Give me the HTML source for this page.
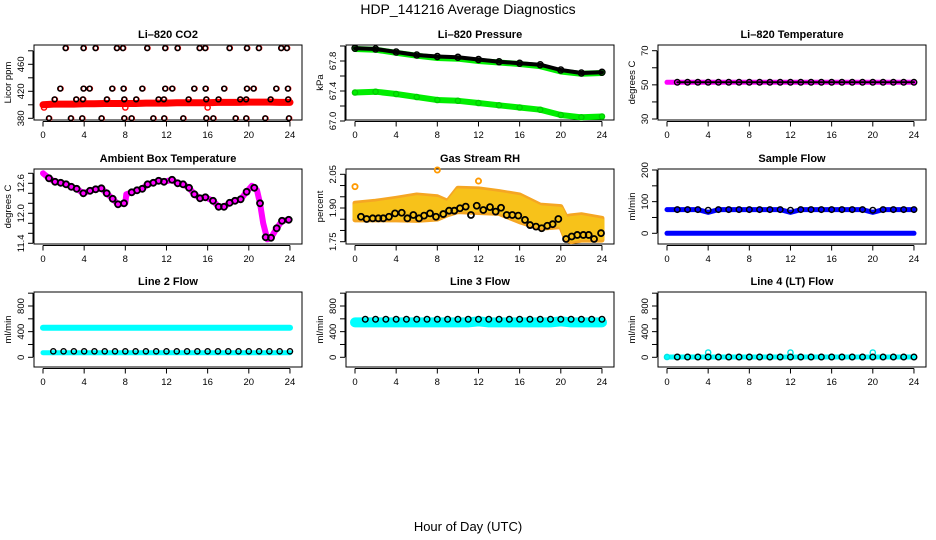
<!DOCTYPE html>
<html><head><meta charset="utf-8"><style>
html,body{margin:0;padding:0;background:#fff;}
svg{display:block;font-family:"Liberation Sans",Arial,sans-serif;}
</style></head><body>
<svg id="chart" width="936" height="540" viewBox="0 0 936 540" xmlns="http://www.w3.org/2000/svg">
<rect width="936" height="540" fill="#fff"/>
<text x="468" y="14" text-anchor="middle" font-size="14">HDP_141216  Average Diagnostics</text>
<text x="468" y="531" text-anchor="middle" font-size="13">Hour of Day (UTC)</text>
</svg>
<script>
// ---------- data ----------
const hrs = [0,1,2,3,4,5,6,7,8,9,10,11,12,13,14,15,16,17,18,19,20,21,22,23,24];
const hrs2 = [0,2,4,6,8,10,12,14,16,18,20,22,24];
const xTicks = [0,4,8,12,16,20,24];

// CO2
const co2Red = [400,401,401,401,401.5,401.5,402,402,402,402,402.5,402.5,402.5,403,403,403,403,403.5,403.5,403.5,404,404,404,403.5,403.5];
const co2OutHrs = [0.1,8,16];
const co2OutVals = [396,396,396];
const co2BlkHrs = [2.24,3.98,5.15,7.22,7.81,10.17,11.92,13.12,15.26,15.81,18.17,19.86,21.02,23.19,23.74,
 1.72,3.98,4.57,6.77,7.87,9.69,11.92,12.6,14.74,15.84,17.65,19.86,20.51,22.71,23.84,
 1.17,3.27,3.92,6.25,7.94,9.1,11.27,11.79,14.19,15.91,17.1,19.21,19.79,22.16,23.87,
 0.62,2.75,3.85,5.73,7.94,8.65,10.76,11.82,13.67,15.91,16.59,18.76,19.79,21.64,23.94];
const co2BlkVals = [484,484,484,484,484,484,484,484,484,484,484,484,484,484,484,
 424,424,424,424,424,424,424,424,424,424,424,424,424,424,424,
 408,408,408,408,408,408,408,408,408,408,408,408,408,408,408,
 380,380,380,380,380,380,380,380,380,380,380,380,380,380,380];

// Pressure
const presBlk = [67.97,67.96,67.92,67.88,67.86,67.85,67.82,67.79,67.77,67.75,67.68,67.64,67.65];
const presGrnHi = [67.96,67.95,67.91,67.87,67.84,67.83,67.80,67.78,67.76,67.73,67.66,67.63,67.64];
const presGrnLo = [67.38,67.39,67.36,67.32,67.28,67.27,67.24,67.21,67.18,67.15,67.08,67.05,67.06];

// Li-820 temp
const tempVals = [51.5,51.5,51.5,51.5,51.5,51.5,51.5,51.5,51.5,51.5,51.5,51.5,51.5,51.5,51.5,51.5,51.5,51.5,51.5,51.5,51.5,51.5,51.5,51.5,51.5];

// Ambient box temperature
const ambHrs = [0.58,1.17,1.72,2.24,2.75,3.27,3.92,4.57,5.12,5.67,6.19,6.77,7.29,7.87,8.62,9.14,9.65,10.17,10.72,11.24,11.76,12.54,13.09,13.61,14.19,14.71,15.26,15.78,16.52,17.07,17.59,18.14,18.66,19.21,19.79,20.53,21.09,21.64,22.16,22.71,23.23,23.88];
const ambVals = [12.70,12.63,12.61,12.58,12.53,12.49,12.40,12.45,12.48,12.50,12.40,12.29,12.18,12.20,12.42,12.46,12.49,12.58,12.61,12.65,12.63,12.67,12.60,12.58,12.51,12.38,12.30,12.32,12.25,12.13,12.13,12.21,12.25,12.28,12.43,12.51,12.20,11.52,11.51,11.70,11.85,11.87];
const ambMagHrs = [0,0.3,0.58,1.17,1.72,2.24,2.75,3.27,3.92,4.57,5.12,5.67,6.19,6.77,7.29,7.87,8.0,8.1,8.62,9.14,9.65,10.17,10.72,11.24,11.76,12.54,13.09,13.61,14.19,14.71,15.26,15.78,16.52,17.07,17.59,18.14,18.66,19.21,19.79,20.3,20.8,21.09,21.4,21.8,22.16,22.71,23.23,23.88];
const ambMagVals = [12.80,12.75,12.70,12.63,12.61,12.58,12.53,12.49,12.40,12.45,12.48,12.50,12.40,12.29,12.18,12.20,12.20,12.38,12.42,12.46,12.49,12.58,12.61,12.65,12.63,12.67,12.60,12.58,12.51,12.38,12.30,12.32,12.25,12.13,12.13,12.21,12.25,12.28,12.43,12.55,12.46,12.20,11.80,11.48,11.51,11.70,11.85,11.87];

// Gas stream RH
const rhHrs = [0.58,1.13,1.72,2.27,2.75,3.30,3.89,4.54,5.09,5.67,6.22,6.71,7.29,7.87,8.58,9.14,9.65,10.20,10.76,11.27,11.83,12.47,13.12,13.67,14.19,14.74,15.29,15.87,16.52,17.01,17.59,18.14,18.69,19.21,19.76,20.51,21.06,21.60,22.19,22.71,23.23,23.91];
const rhVals = [1.861,1.851,1.854,1.854,1.854,1.861,1.876,1.879,1.854,1.869,1.854,1.866,1.876,1.861,1.873,1.888,1.888,1.899,1.906,1.869,1.910,1.891,1.904,1.884,1.901,1.869,1.869,1.866,1.847,1.824,1.817,1.810,1.821,1.828,1.851,1.762,1.773,1.780,1.780,1.780,1.762,1.788];
const rhBandHrs = [0,2,4,6,8,9,10,12,14,16,18,20,20.5,21,22,24];
const rhBandHi = [1.921,1.930,1.943,1.958,1.950,1.930,1.988,1.985,1.973,1.958,1.913,1.906,1.861,1.865,1.870,1.854];
const rhBandLo = [1.847,1.847,1.847,1.845,1.851,1.870,1.884,1.880,1.876,1.839,1.810,1.817,1.760,1.750,1.757,1.757];
const rhOutHrs = [0.0,8.0,12.0];
const rhOutVals = [1.995,2.069,2.02];

// Sample flow
const sfBlk = [75,75,75,75,73,75,75,75,75,75,75,75,73,75,75,75,75,75,75,75,73,75,75,75,75];
const sfBlue = [75,75,75,75,66,75,75,75,75,75,75,75,66,75,75,75,75,75,75,75,66,75,75,75,75];
const sfBlueZero = [0,0,0,0,0,0,0,0,0,0,0,0,0,0,0,0,0,0,0,0,0,0,0,0,0];

// Line 2 flow
const l2CyanHi = [462,462,462,462,462,462,462,462,462,462,462,462,462,462,462,462,462,462,462,462,462,462,462,462,462];
const l2CyanLo = [72,72,72,72,72,72,72,72,72,72,72,72,72,72,72,72,72,72,72,72,72,72,72,72,72];
const l2Blk = [93,93,93,93,93,93,93,93,93,93,93,93,93,93,93,93,93,93,93,93,93,93,93,93,93];
// Line 3 flow
const l3Cyan = [545,545,545,545,545,545,545,545,545,545,545,545,560,545,545,545,545,545,545,545,560,545,545,545,545];
const l3Blk = [593,593,593,593,593,593,593,593,593,593,593,593,593,593,593,593,593,593,593,593,593,593,593,593,593];
// Line 4 flow
const l4Cyan = [5,5,5,5,75,5,5,5,5,5,5,5,75,5,5,5,5,5,5,5,75,5,5,5,5];
const l4Blk = [5,5,5,5,5,5,5,5,5,5,5,5,5,5,5,5,5,5,5,5,5,5,5,5,5];

// ---------- drawing ----------
const NS = "http://www.w3.org/2000/svg";
const svg = document.getElementById('chart');
function mk(tag, attrs, parent){ const e=document.createElementNS(NS,tag); for(const k in attrs) e.setAttribute(k,attrs[k]); (parent||svg).appendChild(e); return e; }

function panel(col,row,title,ylab,v1,y1,v2,y2,ticks,labels,name){
  const g = mk('g',{});
  
  
  const x0 = 43+312*col;
  const top = [45,169,292][row], bot = top+75;
  const left = x0-9, right = x0+259;
  const xs = h => x0 + h*10.29;
  const ys = v => y1 + (v-v1)*(y2-y1)/(v2-v1);
  const box = mk('rect',{x:left,y:top,width:right-left,height:bot-top,fill:'none',stroke:'#000','stroke-width':1},g);
  
  
  const t = mk('text',{x:(left+right)/2,y:top-7,'text-anchor':'middle','font-size':11,'font-weight':'bold'},g);
  t.textContent = title;
  
  
  const xa = mk('g',{},g);
  
  
  mk('line',{x1:xs(0),x2:xs(24),y1:bot+1.5,y2:bot+1.5,stroke:'#000'},xa);
  xTicks.forEach(h=>{
    mk('line',{x1:xs(h),x2:xs(h),y1:bot+1.5,y2:bot+6.5,stroke:'#000'},xa);
    const l = mk('text',{x:xs(h),y:bot+18,'text-anchor':'middle','font-size':9.5},xa);
    l.textContent = h;
  });
  const ya = mk('g',{},g);
  
  
  mk('line',{x1:left-1,x2:left-1,y1:ys(ticks[0]),y2:ys(ticks[ticks.length-1]),stroke:'#000'},ya);
  ticks.forEach(v=>{
    mk('line',{x1:left-6,x2:left-1,y1:ys(v),y2:ys(v),stroke:'#000'},ya);
  });
  labels.forEach(v=>{
    const yy = ys(parseFloat(v));
    const l = mk('text',{x:left-10,y:yy,'text-anchor':'middle','font-size':9.5,transform:`rotate(-90 ${left-10} ${yy})`},ya);
    l.textContent = v;
  });
  const yl = mk('text',{x:left-23,y:(top+bot)/2,'text-anchor':'middle','font-size':9.5,transform:`rotate(-90 ${left-23} ${(top+bot)/2})`},g);
  yl.textContent = ylab;
  
  
  return {g,xs,ys};
}
function band(p,hs,vs,color,w,name){
  const pts = hs.map((h,i)=>p.xs(h).toFixed(1)+','+p.ys(vs[i]).toFixed(1)).join(' ');
  const e = mk('polyline',{points:pts,fill:'none',stroke:color,'stroke-width':w,'stroke-linejoin':'round','stroke-linecap':'round'},p.g);
  
  
}
function pts(p,hs,vs,color,r,name,sw){
  const g = mk('g',{},p.g);
  
  
  hs.forEach((h,i)=>{
    mk('circle',{cx:p.xs(h),cy:p.ys(vs[i]),r:r,fill:'none',stroke:color,'stroke-width':sw||1.4},g);
  });
}
function area(p,hs,hi,lo,color,name){
  const a = hs.map((h,i)=>p.xs(h)+','+p.ys(hi[i])).concat(hs.slice().reverse().map((h,i)=>p.xs(h)+','+p.ys(lo[hs.length-1-i])));
  const e = mk('polygon',{points:a.join(' '),fill:color,stroke:color,'stroke-width':5,'stroke-linejoin':'round'},p.g);
  
  
}

// CO2
let p = panel(0,0,'Li–820 CO2','Licor ppm',380,118.3,460,64.3,[380,400,420,440,460,480],['380','420','460'],'co2');
band(p,hrs,co2Red,'#ff0000',7,'co2-red-series');
pts(p,co2OutHrs,co2OutVals,'#ff0000',2.6,'co2-red-outliers');
pts(p,co2BlkHrs,co2BlkVals.map(v=>v),'#ff0000',2.4,'co2-red-under',1.4);
pts(p,co2BlkHrs.map(h=>h-0.05),co2BlkVals,'#000',2.4,'co2-black-series',1.5);

// Pressure
p = panel(1,0,'Li–820 Pressure','kPa',67,121,67.8,61,[67.0,67.2,67.4,67.6,67.8,68.0],['67.0','67.4','67.8'],'pressure');
band(p,hrs2,presGrnLo,'#00ee00',6,'pressure-green-lower-band');
pts(p,hrs2,presGrnLo,'#00cc00',2.6,'pressure-green-lower-points');
band(p,hrs2,presGrnHi,'#00ee00',6,'pressure-green-upper-band');
band(p,hrs2,presBlk,'#000',4,'pressure-black-band');
pts(p,hrs2,presBlk,'#000',3,'pressure-black-points');

// Li-820 temp
p = panel(2,0,'Li–820 Temperature','degrees C',30,119,70,50.7,[30,40,50,60,70],['30','50','70'],'licor-temp');
band(p,hrs,tempVals,'#ff00ff',5,'licor-temp-magenta-series');
band(p,hrs.slice(1),tempVals.slice(1),'#000',2,'licor-temp-black-line');
pts(p,hrs.slice(1),tempVals.slice(1),'#000',2.8,'licor-temp-black-points');

// Ambient box temp
p = panel(0,1,'Ambient Box Temperature','degrees C',11.4,243.3,12.6,183.3,[11.4,11.6,11.8,12.0,12.2,12.4,12.6,12.8],['11.4','12.0','12.6'],'ambient-temp');
band(p,ambMagHrs,ambMagVals,'#ff00ff',6,'ambient-temp-magenta-series');
pts(p,ambHrs,ambVals,'#000',3,'ambient-temp-black-points',1.8);

// Gas stream RH
p = panel(1,1,'Gas Stream RH','percent',1.75,241.7,2.05,174.3,[1.75,1.80,1.85,1.90,1.95,2.00,2.05],['1.75','1.90','2.05'],'gas-rh');
area(p,rhBandHrs,rhBandHi,rhBandLo,'#f5a623','gas-rh-orange-band');
area(p,rhBandHrs,rhBandHi.map(v=>v-0.012),rhBandLo.map(v=>v+0.012),'#f7c21a','gas-rh-yellow-band');
pts(p,rhOutHrs,rhOutVals,'#ff9900',2.6,'gas-rh-outliers',1.8);
pts(p,rhHrs,rhVals,'#000',3,'gas-rh-black-points',1.8);

// Sample flow
p = panel(2,1,'Sample Flow','ml/min',0,233.3,200,170,[0,50,100,150,200],['0','100','200'],'sample-flow');
band(p,hrs,sfBlueZero,'#0000ff',5,'sample-flow-blue-zero');
band(p,hrs,sfBlue,'#0000ff',5,'sample-flow-blue-series');
pts(p,hrs.slice(1),sfBlk.slice(1),'#000',2.8,'sample-flow-black-points');

// Line 2
p = panel(0,2,'Line 2 Flow','ml/min',0,357.3,800,306,[0,200,400,600,800,1000],['0','400','800'],'line2-flow');
band(p,hrs,l2CyanHi,'#00ffff',6,'line2-cyan-upper');
band(p,hrs,l2CyanLo,'#00ffff',5,'line2-cyan-lower');
pts(p,hrs.slice(1),l2Blk.slice(1),'#000',2.6,'line2-black-points');

// Line 3
p = panel(1,2,'Line 3 Flow','ml/min',0,357.3,800,306,[0,200,400,600,800,1000],['0','400','800'],'line3-flow');
band(p,hrs,l3Cyan,'#00ffff',10,'line3-cyan-series');
pts(p,hrs.slice(1),l3Blk.slice(1),'#000',2.8,'line3-black-points');

// Line 4
p = panel(2,2,'Line 4 (LT) Flow','ml/min',0,357.3,800,306,[0,200,400,600,800,1000],['0','400','800'],'line4-flow');
band(p,hrs,l4Cyan.map(()=>5),'#00ffff',5,'line4-cyan-series');
pts(p,hrs,l4Cyan,'#00e5e5',2.6,'line4-cyan-points');
pts(p,hrs.slice(1),l4Blk.slice(1),'#000',2.8,'line4-black-points');
</script>
</body></html>
